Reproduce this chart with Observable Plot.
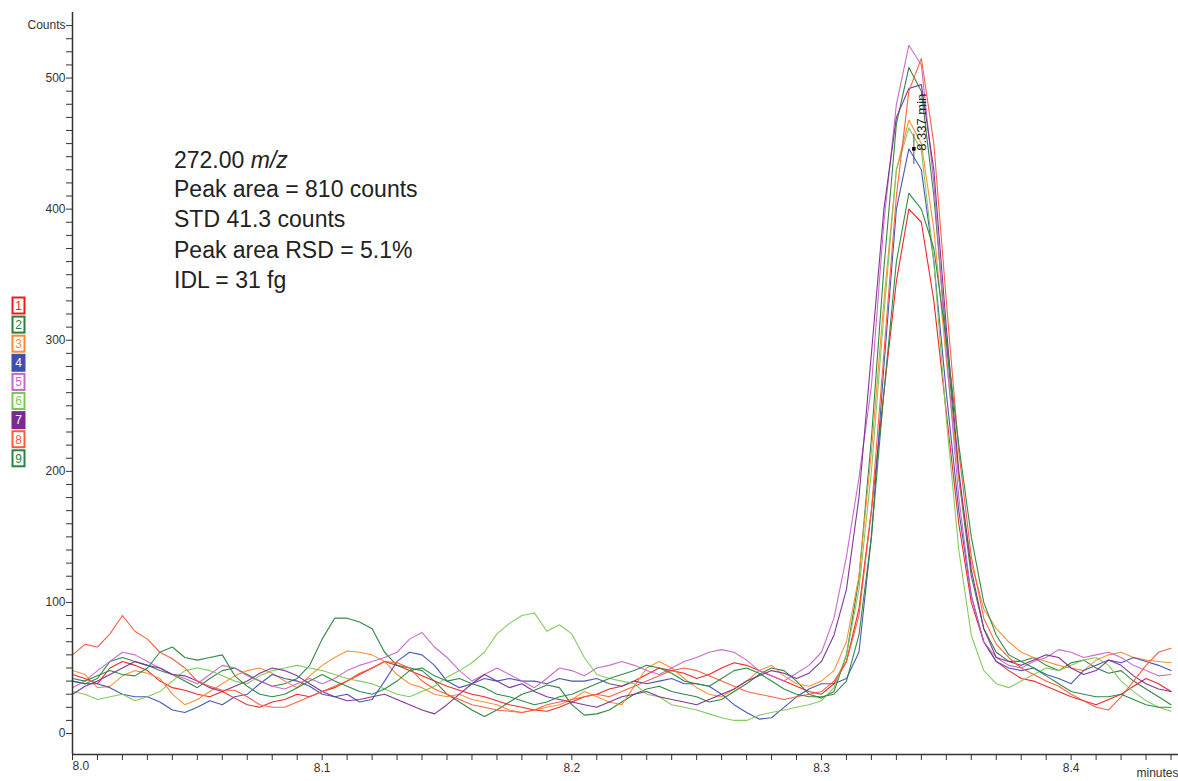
<!DOCTYPE html>
<html>
<head>
<meta charset="utf-8">
<script src="https://cdn.jsdelivr.net/npm/d3@7"></script>
<script src="https://cdn.jsdelivr.net/npm/@observablehq/plot@0.6"></script>
<style>
  body { margin: 0; background: #fff; }
  #chart { width: 1178px; height: 781px; }
</style>
</head>
<body>
<div id="chart"></div>
<script>
// Scan clock: one point every 0.005 min from 8.000 to 8.440 min
const scanStart = 8.0;
const scanStep = 0.005;
const scanCount = 89;

// Extracted ion chromatograms, 272.00 m/z, nine replicate injections (counts)
const run1 = [45,42,38,50,55,52,48,40,35,33, 30,28,32,27,22,20,24,26,30,28, 32,35,40,45,50,55,52,48,44,40, 36,33,30,28,25,22,20,18,17,20, 24,28,30,34,36,40,45,50,48,46, 42,45,50,54,52,48,44,40,36,32,
  30,38,55,95,170,260,345,400,390,330,245,160,100,70,55,48, 42,40,36,32,28,25,22,26,30,36,42,38,32];
const run2 = [40,38,42,55,58,55,52,48,45,40, 35,42,48,50,45,40,36,38,42,52, 72,88,88,85,80,62,52,50,48,40, 30,24,18,13,18,24,30,33,37,35, 22,14,15,18,24,30,34,36,32,30, 28,24,26,32,38,45,50,48,40,30,
  27,32,60,118,225,355,465,508,490,410,300,195,120,80,62,55, 55,58,52,48,54,56,50,46,48,40,34,28,22];
const run3 = [48,45,35,36,44,48,46,42,30,22, 26,32,38,44,48,50,46,40,35,44, 52,58,63,62,60,55,45,38,35,30, 28,30,26,24,22,18,16,18,20,22, 26,32,28,24,22,36,50,55,50,42, 35,30,28,34,40,48,52,44,38,36,
  40,48,70,120,215,330,430,468,450,385,285,195,130,95,80,70, 62,58,55,52,50,48,56,60,62,58,56,55,54];
const run4 = [40,38,38,35,30,28,28,24,18,16, 20,25,22,28,30,38,45,42,40,36, 30,28,30,24,26,40,55,62,60,52, 40,35,38,42,40,42,40,40,38,42, 40,40,42,38,36,40,38,40,42,38, 38,36,30,22,16,11,12,20,28,34,
  38,38,42,62,150,280,400,446,430,360,260,170,105,70,55,50, 48,50,45,42,38,48,52,56,54,58,55,52,48];
const run5 = [35,40,48,55,62,60,55,50,45,42, 38,45,52,50,44,40,36,34,38,42, 38,42,48,52,55,58,62,72,77,66, 58,48,40,45,50,45,40,35,42,50, 48,44,50,52,55,52,48,45,50,55, 58,62,64,62,56,48,44,40,46,52,
  62,88,135,195,265,390,480,525,510,420,290,180,105,70,58,52, 50,55,58,64,62,58,60,62,58,52,48,44,45];
const run6 = [32,30,26,28,30,25,28,32,40,48, 50,48,44,40,38,44,48,50,52,50, 48,45,42,40,38,34,30,28,32,36, 43,48,54,62,76,84,90,92,78,83, 76,58,45,42,40,38,30,28,22,20, 18,15,12,10,10,14,16,18,20,22,
  25,35,60,110,200,320,430,462,445,360,240,140,75,48,38,35, 40,45,50,48,52,56,58,52,40,32,25,20,17];
const run7 = [30,36,40,45,50,55,52,50,45,44, 40,35,32,36,40,46,50,48,44,38, 32,28,25,26,28,30,26,22,18,15, 22,30,38,45,40,35,38,32,28,26, 24,22,20,24,28,30,32,28,26,24, 22,26,30,34,40,44,48,46,42,46,
  55,75,110,180,290,400,470,492,495,430,310,200,125,80,58,55, 52,56,60,58,50,45,48,56,52,44,38,34,32];
const run8 = [60,68,66,76,90,78,72,62,57,50, 40,36,33,33,28,22,20,20,24,28, 32,36,40,46,50,55,54,50,40,34, 30,26,22,20,18,17,16,18,22,24, 26,28,30,28,32,36,40,44,48,50, 48,44,40,36,32,30,28,26,28,30,
  32,40,55,90,170,290,410,490,515,450,330,215,135,88,68,58, 50,45,40,36,30,25,20,18,28,40,52,62,65];
const run9 = [42,40,44,48,45,44,50,62,66,58, 56,58,60,44,36,30,28,30,35,40, 45,40,36,32,30,34,40,48,50,44, 40,42,38,35,30,28,25,22,24,28, 30,34,38,42,45,48,52,50,46,40, 38,36,42,48,50,46,40,34,30,28,
  28,30,40,75,150,260,360,412,400,370,300,220,150,100,75,60, 55,50,44,38,32,30,28,28,30,26,22,20,20];

const runNames = ["1","2","3","4","5","6","7","8","9"];
const runColors = ["#f01c1c","#2a7f3a","#ff8a30","#3f4fb0","#c864c8","#7cc855","#7b2b8f","#ff5a3a","#23883f"];
const filledKeys = ["4","7"];

// Axis ticks
const yMinorStep = 10;
const yLabelled = [0,100,200,300,400,500];
const yUnitTick = 540;
const yUnitText = "Counts";
const xMinorStep = 0.01;
const xLabelled = [8.0, 8.1, 8.2, 8.3, 8.4];
const xUnitText = "minutes";

// Retention-time marker on run 4
const peakTime = 8.337;
const peakCounts = 446;
const peakText = "8.337 min";

// Method figures printed on the plot
const infoLines = [
  {main: "272.00 ", ital: "m/z"},
  {main: "Peak area = 810 counts"},
  {main: "STD 41.3 counts"},
  {main: "Peak area RSD = 5.1%"},
  {main: "IDL = 31 fg"}
];

const times = d3.range(scanCount).map(i => +(scanStart + i * scanStep).toFixed(3));
const runs = [run1, run2, run3, run4, run5, run6, run7, run8, run9];
const rows = runs.flatMap((vals, k) => vals.map((v, i) => ({run: runNames[k], t: times[i], counts: v})));

const yTicks = d3.range(0, yUnitTick + 1, yMinorStep);
const xTicks = d3.range(0, 45).map(i => +(8 + i * xMinorStep).toFixed(2));

const axisColor = "#333";
const font = "'Liberation Sans', Arial, sans-serif";

const plot = Plot.plot({
  width: 1178,
  height: 781,
  marginLeft: 72,
  marginRight: 0,
  marginTop: 12,
  marginBottom: 27,
  style: {fontFamily: font, fontSize: "12px", color: axisColor, background: "#fff"},
  x: {domain: [8.0, 8.443]},
  y: {domain: [-16, 550]},
  color: {domain: runNames, range: runColors},
  marks: [
    Plot.line(rows, {x: "t", y: "counts", z: "run", stroke: "run", strokeWidth: 1.1, strokeOpacity: 0.95}),
    Plot.ruleX([peakTime], {y1: peakCounts - 12, y2: peakCounts + 11, stroke: "#555", strokeWidth: 1}),
    Plot.dot([{t: peakTime, c: peakCounts}], {x: "t", y: "c", r: 2, symbol: "square", fill: "#000"}),
    Plot.text([{t: peakTime, c: peakCounts, s: peakText}], {
      x: "t", y: "c", text: "s", rotate: -90, textAnchor: "start", dx: 8, dy: 2,
      fontSize: 13, fill: "#222"
    }),
    Plot.axisY({ticks: yTicks, tickSize: 6, tickPadding: 1, label: null, stroke: axisColor,
      tickFormat: d => d === yUnitTick ? yUnitText : (yLabelled.includes(d) ? String(d) : "")}),
    Plot.axisX({ticks: xTicks, tickSize: 6, tickPadding: 3, label: null, stroke: axisColor,
      tickFormat: d => (xLabelled.includes(d) && d !== 8.0) ? d.toFixed(1) : ""}),
    Plot.text([xLabelled[0]], {x: d => d, frameAnchor: "bottom", dy: 15, textAnchor: "start",
      text: d => d.toFixed(1), fill: axisColor}),
    Plot.text([xUnitText], {frameAnchor: "bottom-right", dy: 22, textAnchor: "end", text: d => d, fill: axisColor}),
    Plot.ruleX([8.0], {stroke: axisColor, strokeWidth: 1.5}),
    Plot.ruleY([-16], {stroke: axisColor, strokeWidth: 1.5})
  ]
});

document.getElementById("chart").appendChild(plot);

// Replicate key in the left margin
const svg = d3.select(plot);
const key = svg.append("g").attr("font-family", font).attr("font-size", 12).attr("text-anchor", "middle");
runNames.forEach((name, i) => {
  const color = runColors[i];
  const filled = filledKeys.includes(name);
  const y0 = 297.5 + i * 19.1;
  key.append("rect")
    .attr("x", 12.5).attr("y", y0).attr("width", 12).attr("height", 16)
    .attr("fill", filled ? color : "#fff").attr("stroke", color).attr("stroke-width", 2);
  key.append("text")
    .attr("x", 18.5).attr("y", y0 + 8).attr("dy", "0.36em")
    .attr("fill", filled ? "#fff" : color).text(name);
});

// Method figures block
const info = svg.append("g").attr("font-family", font).attr("font-size", 23)
  .attr("fill", "#222").attr("text-anchor", "start");
const baselines = [168, 197, 227, 258, 288];
infoLines.forEach((ln, i) => {
  const t = info.append("text").attr("x", 174).attr("y", baselines[i]);
  t.append("tspan").text(ln.main);
  if (ln.ital) t.append("tspan").attr("font-style", "italic").text(ln.ital);
});
</script>
</body>
</html>
